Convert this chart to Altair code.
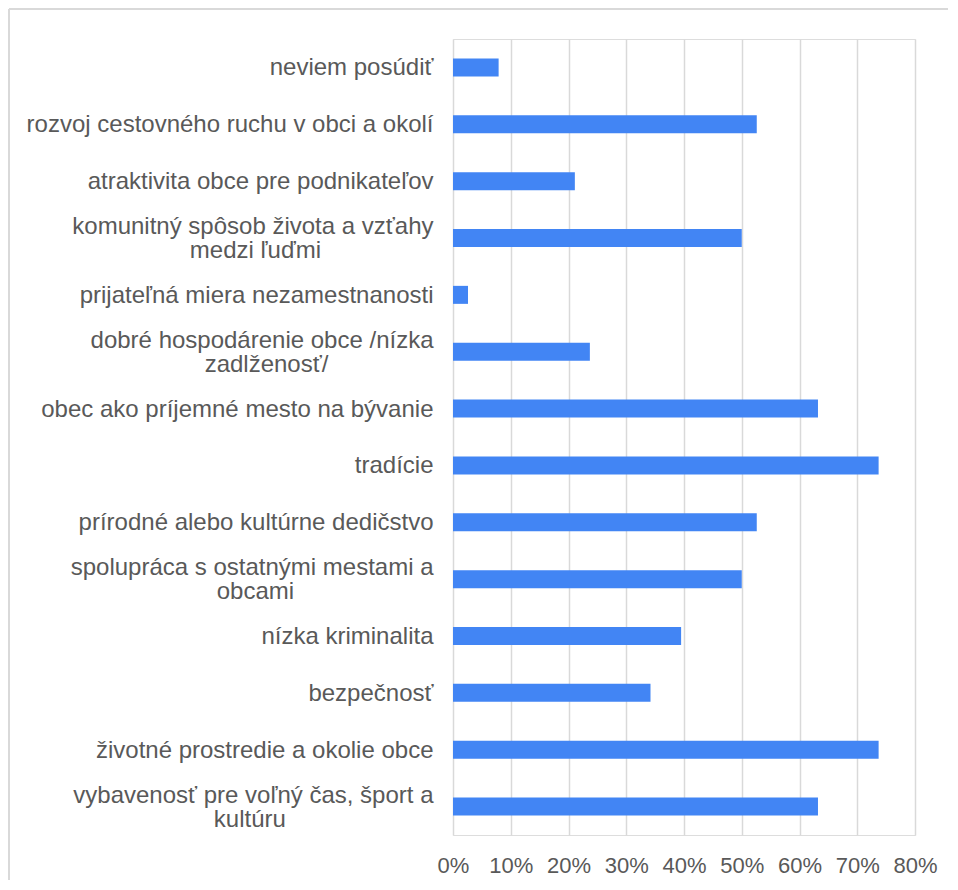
import altair as alt
import pandas as pd

categories = [
    "neviem posúdiť",
    "rozvoj cestovného ruchu v obci a okolí",
    "atraktivita obce pre podnikateľov",
    "komunitný spôsob života a vzťahy\nmedzi ľuďmi",
    "prijateľná miera nezamestnanosti",
    "dobré hospodárenie obce /nízka\nzadlženosť/",
    "obec ako príjemné mesto na bývanie",
    "tradície",
    "prírodné alebo kultúrne dedičstvo",
    "spolupráca s ostatnými mestami a\nobcami",
    "nízka kriminalita",
    "bezpečnosť",
    "životné prostredie a okolie obce",
    "vybavenosť pre voľný čas, šport a\nkultúru",
]
values = [7.9, 52.6, 21.1, 50.0, 2.6, 23.7, 63.2, 73.7, 52.6, 50.0, 39.5, 34.2, 73.7, 63.2]
tick_values = [0, 10, 20, 30, 40, 50, 60, 70, 80]

df = pd.DataFrame({"cat": categories, "val": values})

FONT = "Liberation Sans"
GREY = "#595959"
YFS = 24

y_enc = alt.Y(
    "cat:N",
    sort=categories,
    scale=alt.Scale(paddingInner=0, paddingOuter=0),
    axis=alt.Axis(
        title=None,
        domain=False,
        ticks=False,
        tickSize=0,
        labelPadding=20,
        labelFontSize=YFS,
        labelColor=GREY,
        labelFont=FONT,
        labelLimit=500,
        labelOverlap=False,
        labelOffset={"condition": {"test": "indexof(datum.value, '\\n') >= 0", "value": -11}, "value": 1},
        labelExpr="split(datum.label, '\\n')[0]",
    ),
)

bars = alt.Chart(df).mark_bar(size=18, color="#4285F4").encode(
    x=alt.X(
        "val:Q",
        scale=alt.Scale(domain=[0, 80], nice=False),
        axis=alt.Axis(
            values=tick_values,
            labelExpr="datum.value + '%'",
            labelOverlap=False,
            labelFlush=False,
            title=None,
            grid=True,
            gridColor="#d9d9d9",
            gridWidth=1.5,
            domain=False,
            ticks=False,
            tickSize=0,
            labelPadding=20,
            labelFontSize=22,
            labelColor=GREY,
            labelFont=FONT,
        ),
    ),
    y=y_enc,
)

# second lines of two-line category labels, centred under the first line
second_lines = (
    alt.Chart(df)
    .transform_filter("indexof(datum.cat, '\\n') >= 0")
    .transform_calculate(
        line2="split(datum.cat, '\\n')[1]",
        len1="length(split(datum.cat, '\\n')[0])",
    )
    .mark_text(
        align="center",
        baseline="middle",
        dy=13,
        dx=alt.expr("-20 - 5.55 * datum.len1"),
        fontSize=YFS,
        font=FONT,
        color=GREY,
    )
    .encode(
        y=alt.Y("cat:N", sort=categories),
        x=alt.value(0),
        text="line2:N",
    )
)

frame_data = alt.Data(values=[{}])
frame_top = alt.Chart(frame_data).mark_rule(color="#d9d9d9", strokeWidth=2).encode(
    x=alt.value(-444), x2=alt.value(700), y=alt.value(-30)
)
frame_left = alt.Chart(frame_data).mark_rule(color="#d9d9d9", strokeWidth=2).encode(
    x=alt.value(-444), y=alt.value(-30), y2=alt.value(900)
)

chart = alt.layer(frame_top, frame_left, bars, second_lines).properties(
    width=462,
    height=796,
    autosize=alt.AutoSizeParams(type="none"),
    padding={"left": 445, "top": 31, "right": 33, "bottom": 45},
).configure_view(stroke=None).configure(background="white")

chart.save("out.html", embed_options={"renderer": "svg", "actions": False})
